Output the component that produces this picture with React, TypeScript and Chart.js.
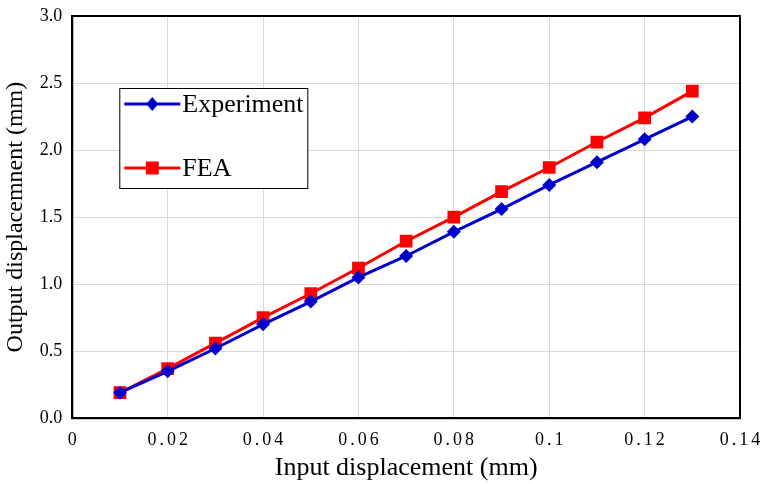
import React, { useEffect, useRef } from "react";
import { Chart, registerables } from "chart.js";

Chart.register(...registerables);

const inputDisp = [0.01, 0.02, 0.03, 0.04, 0.05, 0.06, 0.07, 0.08, 0.09, 0.1, 0.11, 0.12, 0.13];
const experiment = [0.19, 0.35, 0.52, 0.7, 0.87, 1.05, 1.21, 1.39, 1.56, 1.74, 1.91, 2.08, 2.25];
const fea = [0.19, 0.37, 0.56, 0.75, 0.93, 1.12, 1.32, 1.5, 1.69, 1.87, 2.06, 2.24, 2.44];
const seriesNames = ["Experiment", "FEA"];
const xTitle = "Input displacement (mm)";
const yTitle = "Output displacemnent (mm)";

const FONT = "'Liberation Serif', 'Times New Roman', serif";

const legendPlugin = {
  id: "boxLegend",
  beforeDraw(chart: any) {
    const s = chart.scales.x;
    if (s && !s._lsPatched) {
      const orig = s.drawLabels.bind(s);
      s.drawLabels = (area: any) => {
        const c = chart.ctx;
        c.save();
        c.letterSpacing = "3px";
        c.translate(1.5, 0);
        orig(area);
        c.restore();
      };
      s._lsPatched = true;
    }
  },
  afterDraw(chart: any) {
    const { ctx, chartArea } = chart;
    ctx.save();
    ctx.strokeStyle = "#000";
    ctx.lineWidth = 2;
    ctx.strokeRect(chartArea.left, chartArea.top, chartArea.right - chartArea.left, chartArea.bottom - chartArea.top);
    const bx = chartArea.left + 47;
    const by = chartArea.top + 72;
    const bw = 188;
    const bh = 100;
    ctx.fillStyle = "#fff";
    ctx.fillRect(bx, by, bw, bh);
    ctx.strokeStyle = "#000";
    ctx.lineWidth = 1;
    ctx.strokeRect(bx + 0.5, by + 0.5, bw, bh);
    const items = [
      { name: seriesNames[0], color: "#0000cc", style: "diamond", y: by + 16 },
      { name: seriesNames[1], color: "#ff0000", style: "square", y: by + 80 },
    ];
    items.forEach((it) => {
      ctx.strokeStyle = it.color;
      ctx.fillStyle = it.color;
      ctx.lineWidth = 3;
      ctx.beginPath();
      ctx.moveTo(bx + 5, it.y);
      ctx.lineTo(bx + 61, it.y);
      ctx.stroke();
      const cx = bx + 33;
      ctx.beginPath();
      if (it.style === "diamond") {
        ctx.moveTo(cx, it.y - 7);
        ctx.lineTo(cx + 6, it.y);
        ctx.lineTo(cx, it.y + 7);
        ctx.lineTo(cx - 6, it.y);
        ctx.closePath();
      } else {
        ctx.rect(cx - 6.5, it.y - 6.5, 13, 13);
      }
      ctx.fill();
      ctx.fillStyle = "#000";
      ctx.font = `26px ${FONT}`;
      ctx.textBaseline = "middle";
      ctx.textAlign = "left";
      ctx.fillText(it.name, bx + 63, it.y + 1);
    });
    ctx.restore();
  },
};

export default function App() {
  const ref = useRef<HTMLCanvasElement>(null);
  useEffect(() => {
    document.body.style.margin = "0";
    const chart = new Chart(ref.current!, {
      type: "line",
      data: {
        datasets: [
          {
            label: seriesNames[0],
            data: inputDisp.map((x, i) => ({ x, y: experiment[i] })),
            borderColor: "#0000cc",
            backgroundColor: "#0000cc",
            borderWidth: 3,
            pointStyle: "rectRot",
            pointRadius: 7,
            pointBorderWidth: 0,
          },
          {
            label: seriesNames[1],
            data: inputDisp.map((x, i) => ({ x, y: fea[i] })),
            borderColor: "#ff0000",
            backgroundColor: "#ff0000",
            borderWidth: 3,
            pointStyle: "rect",
            pointRadius: 9,
            pointBorderWidth: 0,
          },
        ],
      },
      options: {
        animation: false,
        responsive: false,
        layout: { padding: { top: 0, right: 0, left: 1, bottom: 0 } },
        plugins: { legend: { display: false }, tooltip: { enabled: false } },
        scales: {
          x: {
            type: "linear",
            min: 0,
            max: 0.14,
            afterFit: (s: any) => {
              s.paddingRight = 20;
            },
            ticks: {
              stepSize: 0.02,
              color: "#000",
              font: { family: FONT, size: 18 },
              padding: 11,
              maxRotation: 0,
              callback: (v: any) => String(Number(Number(v).toFixed(2))),
            },
            grid: { color: "#d9d9d9", drawTicks: false, lineWidth: 1 },
            border: { display: true, color: "#000", width: 2 },
            title: { display: true, text: xTitle, color: "#000", font: { family: FONT, size: 26 }, padding: { top: -9, bottom: 0 } },
          },
          y: {
            min: 0,
            max: 3,
            afterFit: (s: any) => {
              s.paddingTop = 16;
            },
            ticks: {
              stepSize: 0.5,
              color: "#000",
              font: { family: FONT, size: 18 },
              padding: 10,
              callback: (v: any) => Number(v).toFixed(1),
            },
            grid: { color: "#d9d9d9", drawTicks: false, lineWidth: 1 },
            border: { display: true, color: "#000", width: 2 },
            title: { display: true, text: yTitle, color: "#000", font: { family: FONT, size: 24 }, padding: { top: 0, bottom: 0 } },
          },
        },
      },
      plugins: [legendPlugin],
    });
    return () => chart.destroy();
  }, []);
  return <canvas ref={ref} width={760} height={484} style={{ display: "block" }} />;
}
